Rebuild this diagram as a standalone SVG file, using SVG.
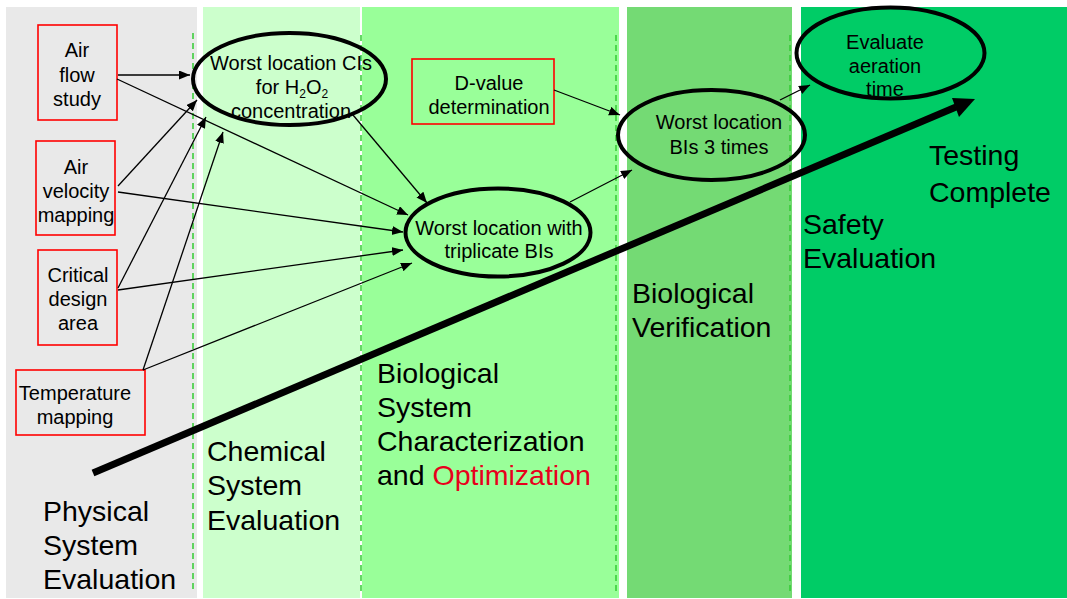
<svg xmlns="http://www.w3.org/2000/svg" width="1067" height="599" viewBox="0 0 1067 599">
<style>
text{font-family:"Liberation Sans",Arial,sans-serif;fill:#000}
.n{font-size:20px;text-anchor:middle}
.big{font-size:28.5px}
.box{fill:none;stroke:#ff0000;stroke-width:1.6}
.ell{fill:none;stroke:#000;stroke-width:4}
.dash{stroke:#33cc33;stroke-width:1.5;stroke-dasharray:6 4;fill:none}
.con{stroke:#000;stroke-width:1.3;fill:none;marker-end:url(#ah)}
</style>
<defs>
<marker id="ah" markerUnits="userSpaceOnUse" markerWidth="12" markerHeight="10" refX="11" refY="4.5" orient="auto">
<path d="M0,0 L11,4.5 L0,9 z" fill="#000"/>
</marker>
</defs>
<rect width="1067" height="599" fill="#ffffff"/>
<g id="panels">
<rect x="6" y="7" width="191" height="591" fill="#e9e9e9"/>
<rect x="203" y="7" width="157" height="591" fill="#ccffcc"/>
<rect x="362" y="7" width="257" height="591" fill="#99ff99"/>
<rect x="627" y="7" width="165" height="591" fill="#74da74"/>
<rect x="801" y="7" width="266" height="591" fill="#00cc66"/>
<line class="dash" x1="193" y1="33" x2="193" y2="592"/>
<line class="dash" x1="361" y1="35" x2="361" y2="592"/>
<line class="dash" x1="616" y1="35" x2="616" y2="592"/>
<line class="dash" x1="790" y1="35" x2="790" y2="592"/>
</g>
<g id="progress-arrow">
<line x1="93" y1="473" x2="956" y2="107" stroke="#000" stroke-width="7"/>
<polygon points="975,99 952,98 959,117" fill="#000"/>
</g>
<g id="stage-labels">
<text class="big" x="43" y="521">Physical</text>
<text class="big" x="43" y="555">System</text>
<text class="big" x="43" y="589">Evaluation</text>
<text class="big" x="207" y="461">Chemical</text>
<text class="big" x="207" y="495">System</text>
<text class="big" x="207" y="530">Evaluation</text>
<text class="big" x="377" y="383">Biological</text>
<text class="big" x="377" y="417">System</text>
<text class="big" x="377" y="451">Characterization</text>
<text class="big" x="377" y="485">and <tspan fill="#e8001c">Optimization</tspan></text>
<text class="big" x="632" y="303">Biological</text>
<text class="big" x="632" y="337">Verification</text>
<text class="big" x="803" y="234">Safety</text>
<text class="big" x="803" y="268">Evaluation</text>
<text class="big" x="929" y="165">Testing</text>
<text class="big" x="929" y="202">Complete</text>
</g>
<g id="air-flow">
<rect class="box" x="38" y="25" width="79" height="95"/>
<text class="n" x="77" y="57">Air</text>
<text class="n" x="77" y="82">flow</text>
<text class="n" x="77" y="106">study</text>
</g>
<g id="air-velocity">
<rect class="box" x="36" y="141" width="79" height="94"/>
<text class="n" x="76" y="174">Air</text>
<text class="n" x="76" y="198">velocity</text>
<text class="n" x="76" y="222">mapping</text>
</g>
<g id="critical-design">
<rect class="box" x="38" y="250" width="79" height="95"/>
<text class="n" x="78" y="282">Critical</text>
<text class="n" x="78" y="306">design</text>
<text class="n" x="78" y="330">area</text>
</g>
<g id="temperature">
<rect class="box" x="16" y="370" width="129" height="65"/>
<text class="n" x="75" y="400">Temperature</text>
<text class="n" x="75" y="424">mapping</text>
</g>
<g id="d-value">
<rect class="box" x="412" y="59" width="142" height="65"/>
<text class="n" x="489" y="90">D-value</text>
<text class="n" x="489" y="114">determination</text>
</g>
<g id="worst-ci">
<ellipse class="ell" cx="289.5" cy="79" rx="96.5" ry="46"/>
<text class="n" x="291" y="70">Worst location CIs</text>
<text class="n" x="292" y="94">for H<tspan font-size="12" dy="4">2</tspan><tspan dy="-4">O</tspan><tspan font-size="12" dy="4">2</tspan></text>
<text class="n" x="291" y="118">concentration</text>
</g>
<g id="worst-triplicate">
<ellipse class="ell" cx="498" cy="232.5" rx="92.5" ry="44"/>
<text class="n" x="499" y="235">Worst location with</text>
<text class="n" x="499" y="258">triplicate BIs</text>
</g>
<g id="worst-3times">
<ellipse class="ell" cx="711.5" cy="135" rx="93.5" ry="45" stroke-width="3.5"/>
<text class="n" x="719" y="129">Worst location</text>
<text class="n" x="719" y="154">BIs 3 times</text>
</g>
<g id="aeration">
<ellipse class="ell" cx="890.5" cy="53" rx="94" ry="45.5" stroke-width="3"/>
<text class="n" x="885" y="49">Evaluate</text>
<text class="n" x="885" y="73">aeration</text>
<text class="n" x="885" y="96">time</text>
</g>
<g id="connectors">
<line class="con" x1="118" y1="75" x2="190" y2="75"/>
<line class="con" x1="117" y1="79" x2="408" y2="215"/>
<line class="con" x1="118" y1="186" x2="197" y2="100"/>
<line class="con" x1="118" y1="192" x2="403" y2="232"/>
<line class="con" x1="118" y1="288" x2="206" y2="117"/>
<line class="con" x1="118" y1="290" x2="403" y2="250"/>
<line class="con" x1="143" y1="370" x2="223" y2="132"/>
<line class="con" x1="143" y1="370" x2="412" y2="263"/>
<line class="con" x1="353" y1="115" x2="427" y2="203"/>
<line class="con" x1="554" y1="90" x2="620" y2="115"/>
<line class="con" x1="570" y1="202" x2="632" y2="170"/>
<line class="con" x1="780" y1="100" x2="810" y2="85"/>
</g>
</svg>
